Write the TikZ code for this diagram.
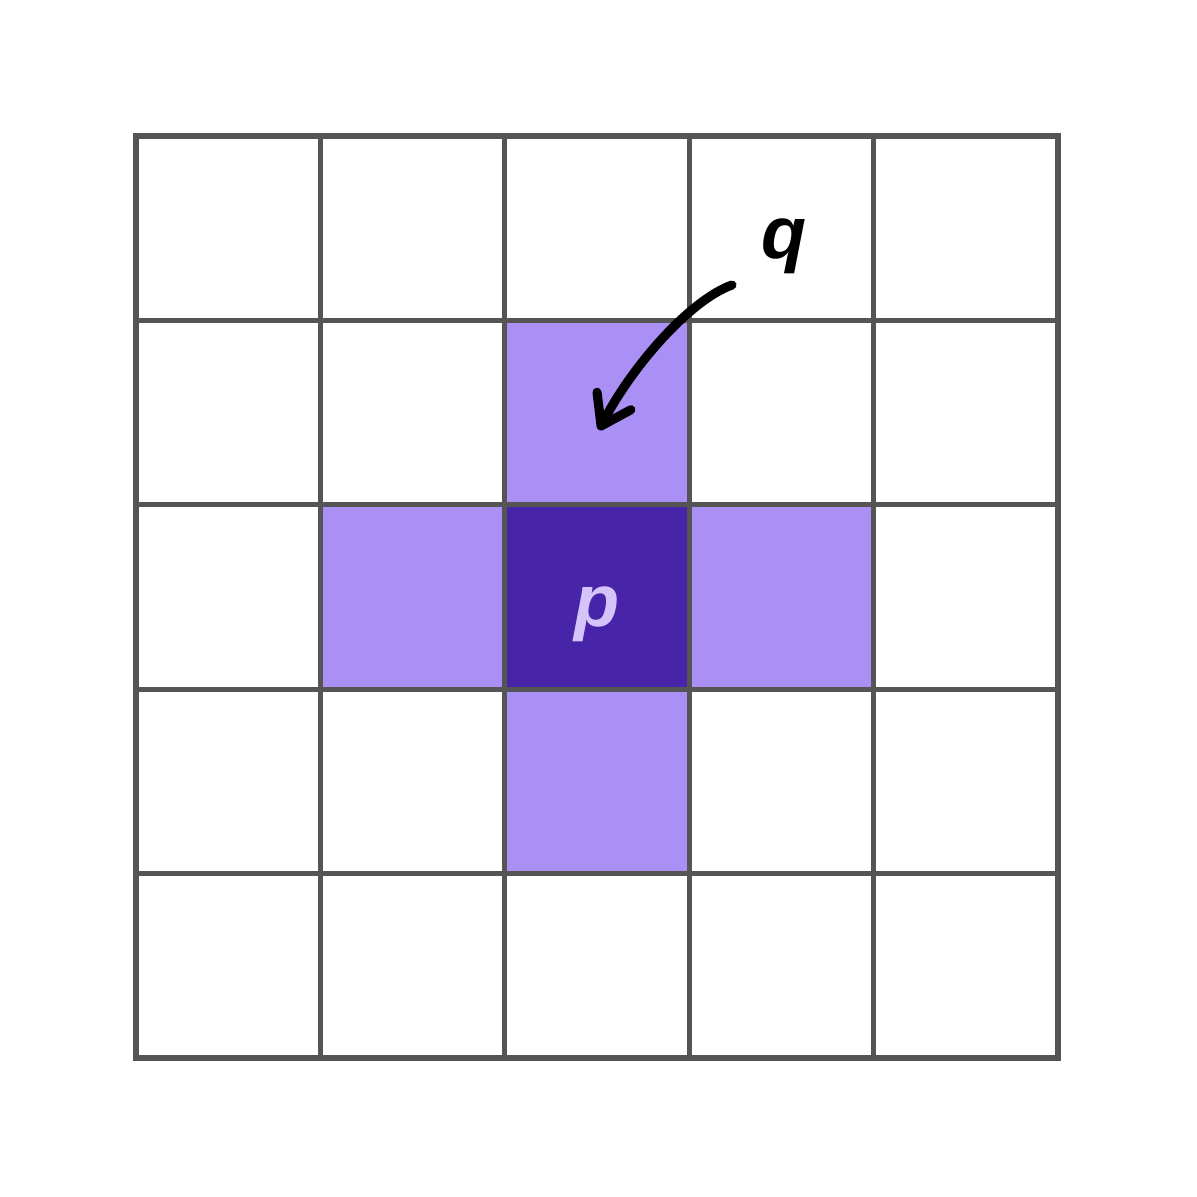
\documentclass[tikz,border=0pt]{standalone}
\usepackage{fontspec}
\setsansfont{Liberation Sans}
\usepackage{xcolor}
\usetikzlibrary{positioning,arrows.meta}
\definecolor{gridline}{HTML}{555555}
\definecolor{nbrfill}{HTML}{AA8FF5}
\definecolor{pixfill}{HTML}{4824A8}
\definecolor{pixtext}{HTML}{D4C4F9}

\begin{document}
\begin{tikzpicture}[
 x=0.01cm, y=-0.01cm,
 gridline/.style={draw=gridline, line width=1.45pt, line cap=rect},
 nbrcell/.style={fill=nbrfill},
 pixcell/.style={fill=pixfill},
 letter/.style={font=\sffamily\bfseries\itshape\fontsize{21}{21}\selectfont, inner sep=0pt},
 arrow/.style={-{Straight Barb[length=2.8mm, width=3.8mm, line cap=round, line join=round]}, line width=2.6pt, line cap=round, black}
 ]
 \useasboundingbox (0,0) rectangle (1197,1197);

 % Cells (column, row) counted from top left
 \fill[nbrcell] (504.8,320.4) rectangle (689.2,504.8);
 \fill[nbrcell] (320.4,504.8) rectangle (504.8,689.2);
 \fill[nbrcell] (689.2,504.8) rectangle (873.6,689.2);
 \fill[nbrcell] (504.8,689.2) rectangle (689.2,873.6);
 \fill[pixcell] (504.8,504.8) rectangle (689.2,689.2);

 % Grid
 \foreach \i in {0,...,5} {
 \draw[gridline] (136+184.4*\i,136) -- (136+184.4*\i,1058);
 \draw[gridline] (136,136+184.4*\i) -- (1058,136+184.4*\i);
 }

 % Labels
 \node[letter, text=pixtext] (p) at (597,614) {p};
 \node[letter] (q) at (784,246) {q};

 % Arrow
 \coordinate (qtail) at (732,285);
 \coordinate (qhead) at (599,430);
 \draw[arrow] (qtail) .. controls (690,300) and (632,366) .. (qhead);
\end{tikzpicture}
\end{document}
